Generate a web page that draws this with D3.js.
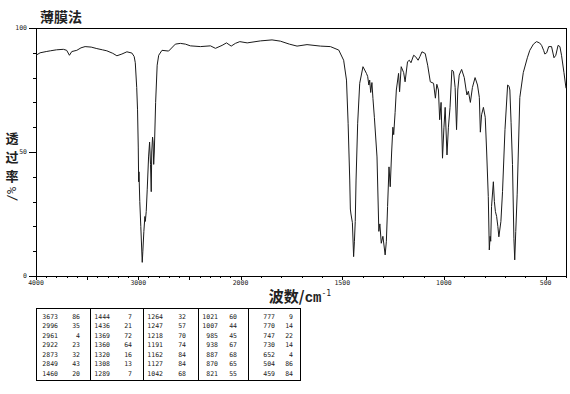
<!DOCTYPE html>
<html><head><meta charset="utf-8">
<script src="https://cdn.jsdelivr.net/npm/d3@7"></script>
<style>body{margin:0;background:#fff}svg{display:block}</style>
</head><body>
<svg id="c" width="570" height="394"></svg>
<script>
const title = "薄膜法";
const yLabelChars = ["透", "过", "率"];
const yLabelUnit = "/%";
const xLabelCJK = "波数/";
const xLabelUnit = "cm";
const xLabelSup = "-1";

// spectrum (wavenumber cm-1, transmittance %)
const wavenumbers = [4000,3960,3900,3860,3800,3732,3700,3673,3650,3601,3560,3520,3460,3405,3350,3307,3250,3209,3160,3111,3062,3040,3029,3015,3007,3000,2996,2993,2985,2975,2961,2955,2945,2935,2931,2922,2912,2899,2889,2880,2873,2868,2860,2855,2849,2843,2830,2815,2800,2768,2703,2637,2588,2539,2490,2392,2294,2245,2180,2137,2091,2050,2007,1967,1902,1845,1804,1760,1722,1673,1607,1558,1517,1493,1479,1471,1463,1460,1457,1450,1444,1440,1436,1432,1424,1414,1398,1381,1375,1369,1365,1360,1354,1349,1342,1329,1320,1315,1308,1300,1289,1283,1277,1270,1264,1257,1251,1247,1240,1234,1223,1218,1210,1198,1191,1179,1170,1162,1149,1140,1127,1118,1108,1092,1080,1067,1051,1042,1035,1027,1021,1014,1007,1000,994,985,978,970,961,953,945,938,932,925,913,900,891,887,880,870,860,847,835,826,821,815,806,797,790,782,777,773,770,766,757,752,747,741,735,730,720,712,700,687,680,676,670,663,656,652,647,640,627,610,590,578,560,545,530,520,510,504,495,485,471,459,450,439,430,422,410,400];
const transmittance = [89,90,90.5,90.8,91.2,91.4,91,89,90.5,91,92,92.5,92.3,91.7,91.2,90.8,89.8,88.8,89.5,90.4,89.9,88.5,86,76,67,52,38,42,30,20,5.5,10,18,24,22,26,35,48,54,45,34,50,56,54,45,50,70,85,89,91,90.7,93.5,93.8,93.5,92.8,92.5,92.8,91.8,93,94,92.7,93.8,94.5,94,94.8,95.2,94.7,93.5,92.7,93.3,92.7,92.5,91.1,87,79,61.6,38.7,27,25,21.5,7.8,14,22,38.7,61.6,77.7,84.4,81.7,80.5,77,79,74,78,71.6,64,48,18,21,13.2,16,8.5,14,28,44,36,50,60,57,66,75,81.7,74.3,84.4,82,78.3,86.4,87,86,89,88.5,87,88.5,90.4,89.7,85,78.3,77.7,71.7,77.3,75,63,70,47.5,60,68,48.8,60,68,83,82.5,76,59,75,81,83.3,80,75,73,74.5,70,76,80,77,72,58,65,68,64,50,32,10.5,16,14,28,38,30,26,24,20,15.8,22,34,59,77,76.5,75,62,45,15,6.5,18,33,72,82,88,91,93.5,94.5,94,93,91,89.5,90,92.5,92.5,88,89,93,92.5,89,82,75.7];

// peak table
const peakWn = [3673,2996,2961,2922,2873,2849,1460,1444,1436,1369,1360,1320,1308,1289,1264,1247,1218,1191,1162,1127,1042,1021,1007,985,938,887,870,821,777,770,747,730,652,504,459];
const peakT  = [86,35,4,23,32,43,20,7,21,72,64,16,13,7,32,57,70,74,84,84,68,60,44,45,67,68,65,55,9,14,22,14,4,86,84];

const xTickLabels = [4000,3000,2000,1500,1000,500];
const yTickLabels = [0,50,100];
const yMinorTicks = [0,10,20,30,40,50,60,70,80,90,100];

const svg = d3.select("#c");
const L = 36, R = 566, T = 28, B = 276;
const x = d3.scaleLinear().domain([4000,2000,400]).range([L,240.5,R]);
const y = d3.scaleLinear().domain([0,100]).range([B,T]);

const mono = "'DejaVu Sans Mono', monospace";
const cjk = "'Noto Sans CJK SC', sans-serif";

// title
svg.append("text").attr("x",40).attr("y",22).attr("font-family",cjk)
  .attr("font-size",14).attr("font-weight",700).attr("fill","#222").text(title);

// frame
svg.append("rect").attr("x",L).attr("y",T).attr("width",R-L).attr("height",B-T)
  .attr("fill","none").attr("stroke","#000").attr("stroke-width",1).attr("shape-rendering","crispEdges");

// x ticks
const xMinor = d3.range(4000,399,-100);
svg.append("g").selectAll("line").data(xMinor).join("line")
  .attr("x1",d=>Math.round(x(d))+0.5).attr("x2",d=>Math.round(x(d))+0.5)
  .attr("y1",B).attr("y2",d=>d%500===0?B+4:B+2)
  .attr("stroke","#000").attr("stroke-width",1);
svg.append("g").selectAll("text").data(xTickLabels).join("text")
  .attr("x",d=>x(d)).attr("y",285).attr("text-anchor","middle")
  .attr("font-family",mono).attr("font-size",6.5).attr("fill","#222").text(d=>d);

// y ticks
svg.append("g").selectAll("line").data(yMinorTicks).join("line")
  .attr("x1",d=>d%50===0?29:33).attr("x2",L)
  .attr("y1",d=>Math.round(y(d))+0.5).attr("y2",d=>Math.round(y(d))+0.5)
  .attr("stroke","#000").attr("stroke-width",1);
svg.append("g").selectAll("text").data(yTickLabels).join("text")
  .attr("x",27).attr("y",d=>y(d)+2).attr("text-anchor","end")
  .attr("font-family",mono).attr("font-size",6.5).attr("fill","#222").text(d=>d);

// y label
svg.append("g").selectAll("text").data(yLabelChars).join("text")
  .attr("x",12).attr("y",(d,i)=>143+i*19).attr("text-anchor","middle")
  .attr("font-family",cjk).attr("font-size",13).attr("font-weight",700).attr("fill","#222").text(d=>d);
svg.append("text").attr("transform","translate(16,194) rotate(-90)")
  .attr("text-anchor","middle").attr("font-family",mono).attr("font-size",12).attr("fill","#222").text(yLabelUnit);

// x label
const xl = svg.append("text").attr("x",300).attr("y",302).attr("text-anchor","middle").attr("fill","#222");
xl.append("tspan").attr("font-family",cjk).attr("font-size",15).attr("font-weight",700).text(xLabelCJK);
xl.append("tspan").attr("font-family","'Liberation Mono', monospace").attr("font-size",14).attr("font-weight",700).text(xLabelUnit);
xl.append("tspan").attr("font-family",mono).attr("font-size",8).attr("dy",-6).text(xLabelSup);

// spectrum
const pts = wavenumbers.map((w,i)=>[w,transmittance[i]]);
svg.append("path").datum(pts)
  .attr("d",d3.line().x(d=>x(d[0])).y(d=>y(d[1])))
  .attr("fill","none").attr("stroke","#1a1a1a").attr("stroke-width",1).attr("stroke-linejoin","round");

// peak table
const tTop = 308, tBot = 380, rows = 7;
const colSeps = [36,90,143,198,248,300];
const wnRight = [58,110,163,218,275];
const valRight = [80,132,186,237,293];
const tg = svg.append("g");
tg.append("line").attr("x1",36).attr("x2",300).attr("y1",tTop+0.5).attr("y2",tTop+0.5).attr("stroke","#000");
tg.append("line").attr("x1",36).attr("x2",300).attr("y1",tBot+0.5).attr("y2",tBot+0.5).attr("stroke","#000");
tg.selectAll("line.v").data(colSeps).join("line").attr("class","v")
  .attr("x1",d=>d+0.5).attr("x2",d=>d+0.5).attr("y1",tTop).attr("y2",tBot+1).attr("stroke","#000");
const cells = peakWn.map((w,i)=>({w, t:peakT[i], c:Math.floor(i/rows), r:i%rows}));
tg.selectAll("text.w").data(cells).join("text").attr("class","w")
  .attr("x",d=>wnRight[d.c]).attr("y",d=>318.5+d.r*9.5).attr("text-anchor","end")
  .attr("font-family",mono).attr("font-size",6.5).attr("fill","#222").text(d=>d.w);
tg.selectAll("text.t").data(cells).join("text").attr("class","t")
  .attr("x",d=>valRight[d.c]).attr("y",d=>318.5+d.r*9.5).attr("text-anchor","end")
  .attr("font-family",mono).attr("font-size",6.5).attr("fill","#222").text(d=>d.t);
</script>
</body></html>
